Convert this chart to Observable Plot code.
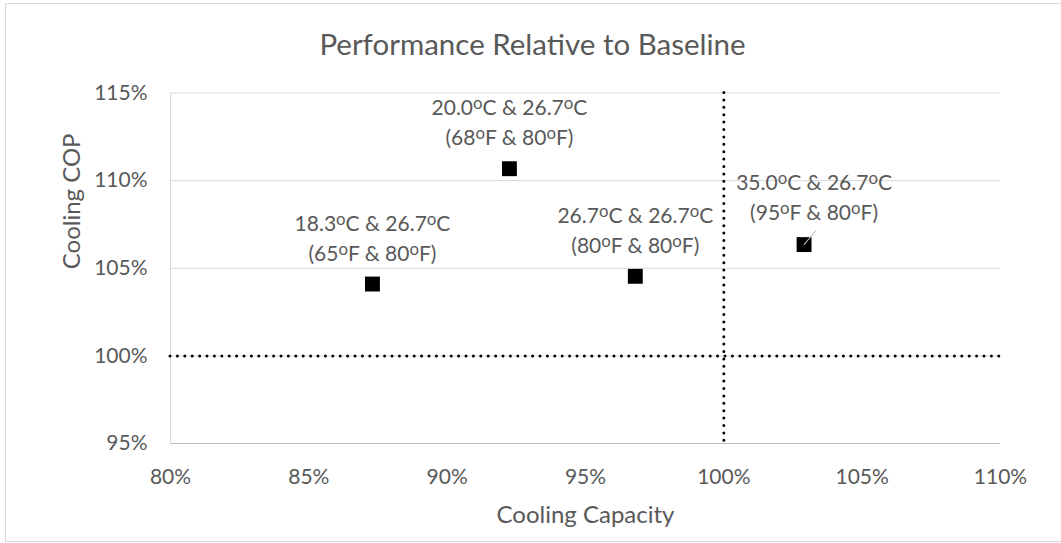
<!DOCTYPE html>
<html>
<head>
<meta charset="utf-8">
<script src="https://cdn.jsdelivr.net/npm/d3@7"></script>
<script src="https://cdn.jsdelivr.net/npm/@observablehq/plot@0.6"></script>
<style>
  html, body { margin: 0; padding: 0; background: #fff; overflow: hidden; }
  #wrap { position: relative; width: 1061px; height: 543px; }
  #border { position: absolute; left: 5px; top: 3px; width: 1080px; height: 537px;
            border: 1.5px solid #d9d9d9; pointer-events: none; }
</style>
</head>
<body>
<div id="wrap"><div id="border"></div></div>
<script>
// Test conditions (evaporator & condenser entering temperatures)
const labelsC = ["18.3°C & 26.7°C", "20.0°C & 26.7°C", "26.7°C & 26.7°C", "35.0°C & 26.7°C"];
const labelsF = ["(65°F & 80°F)", "(68°F & 80°F)", "(80°F & 80°F)", "(95°F & 80°F)"];
// Performance relative to the baseline unit
const capacity = [0.873, 0.9225, 0.968, 1.029];
const cop = [1.041, 1.1068, 1.0454, 1.0635];
// Axis ticks
const xTicks = [0.80, 0.85, 0.90, 0.95, 1.00, 1.05, 1.10];
const yTicks = [0.95, 1.00, 1.05, 1.10, 1.15];

const points = capacity.map((c, i) => ({
  capacity: c, cop: cop[i], label: labelsC[i] + "\n" + labelsF[i], shifted: i === 3
}));

const textColor = "#595959";
const pct = d3.format(".0%");

const chart = Plot.plot({
  width: 1061,
  height: 543,
  marginLeft: 170,
  marginRight: 61,
  marginTop: 92.5,
  marginBottom: 100,
  style: { fontFamily: "Lato, 'Open Sans', sans-serif", fontSize: "21px", color: textColor, background: "transparent" },
  x: { domain: [0.80, 1.10] },
  y: { domain: [0.95, 1.15] },
  marks: [
    Plot.gridY([1.00, 1.05, 1.10, 1.15], { stroke: "#d9d9d9", strokeOpacity: 1, strokeWidth: 1 }),
    Plot.ruleX([0.80], { stroke: "#d9d9d9", strokeWidth: 1 }),
    Plot.ruleY([0.95], { stroke: "#bfbfbf", strokeWidth: 1 }),
    Plot.axisX(xTicks, { tickSize: 0, tickPadding: 26, tickFormat: pct, label: null, fill: textColor }),
    Plot.axisY(yTicks, { tickSize: 0, tickPadding: 23, tickFormat: pct, label: null, fill: textColor }),
    // Baseline reference lines
    Plot.ruleY([1.00], { stroke: "#000", strokeWidth: 3, strokeDasharray: "0 7.4", strokeLinecap: "round" }),
    Plot.ruleX([1.00], { stroke: "#000", strokeWidth: 3, strokeDasharray: "0 7.4", strokeLinecap: "round" }),
    Plot.dot(points, { x: "capacity", y: "cop", symbol: "square", r: 8.4, fill: "#000", stroke: null }),
    // Leader line to the moved label
    Plot.vector(points.filter(d => d.shifted), {
      x: "capacity", y: "cop", length: 18, rotate: 40, anchor: "start",
      stroke: "#bfbfbf", strokeWidth: 1,
      shape: { draw(context, l) { context.moveTo(0, 0); context.lineTo(0, -l); } }
    }),
    Plot.text(points.filter(d => !d.shifted), {
      x: "capacity", y: "cop", text: "label", dy: -48, lineHeight: 1.43, fill: textColor
    }),
    Plot.text(points.filter(d => d.shifted), {
      x: "capacity", y: "cop", text: "label", dx: 10, dy: -49, lineHeight: 1.43, fill: textColor
    }),
    // Titles
    Plot.text(["Performance Relative to Baseline"], {
      frameAnchor: "top", lineAnchor: "middle", dx: -53, dy: -47.5, fontSize: 29.5, fill: textColor
    }),
    Plot.text(["Cooling Capacity"], {
      frameAnchor: "bottom", lineAnchor: "middle", dy: 72, fontSize: 24, fill: textColor
    }),
    Plot.text(["Cooling COP"], {
      frameAnchor: "left", lineAnchor: "middle", dx: -98, dy: 1, rotate: -90, fontSize: 24, fill: textColor
    })
  ]
});

// Draw the degree marks as a raised small "o"
function superscriptDegrees(svg) {
  const ns = "http://www.w3.org/2000/svg";
  const walker = document.createTreeWalker(svg, NodeFilter.SHOW_TEXT);
  const nodes = [];
  while (walker.nextNode()) if (walker.currentNode.nodeValue.includes("°")) nodes.push(walker.currentNode);
  for (const node of nodes) {
    const parts = node.nodeValue.split("°");
    const frag = document.createDocumentFragment();
    parts.forEach((p, i) => {
      if (i > 0) {
        const t = document.createElementNS(ns, "tspan");
        t.setAttribute("font-size", "0.8em");
        t.setAttribute("baseline-shift", "6px");
        t.textContent = "o";
        frag.appendChild(t);
      }
      frag.appendChild(document.createTextNode(p));
    });
    node.parentNode.replaceChild(frag, node);
  }
}
superscriptDegrees(chart);

document.getElementById("wrap").prepend(chart);
</script>
</body>
</html>
